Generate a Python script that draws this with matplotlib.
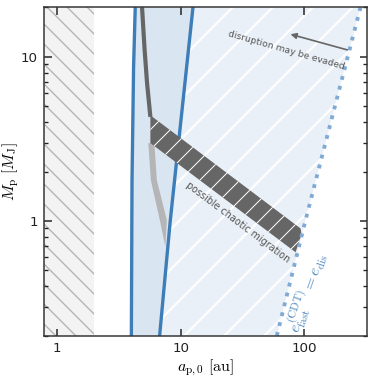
import matplotlib
matplotlib.use('Agg')
import matplotlib.pyplot as plt
from matplotlib.ticker import NullLocator

plt.rcParams['mathtext.fontset'] = 'cm'

# zone limits
a_inner_edge = 2.0

# inner disruption boundary (solid blue, left)
left_a = [4.0, 4.05, 4.17, 4.3]
left_M = [0.2, 1.77, 8.7, 20]

# outer disruption boundary (solid blue, right)
right_a = [6.77, 8.25, 12.6]
right_M = [0.2, 1.0, 20]

# e_fast^(CDT) = e_dis (dotted)
dot_a = [60, 102, 285]
dot_M = [0.2, 1.0, 20]

# chaotic migration band
band_a = [5.7, 93.4, 95.1, 85.1, 5.7]
band_M = [4.4, 0.90, 0.83, 0.645, 2.98]

# dark edge above the band
dark_a = [4.88, 5.12, 5.36, 5.7]
dark_M = [20, 11.0, 6.9, 4.3]

# light edge below the band (wedge)
light_a = [5.49, 5.75, 6.80, 7.53, 7.75, 6.43, 6.14]
light_M = [2.98, 1.77, 1.01, 0.70, 1.01, 1.77, 2.98]

DPI = 120
fig = plt.figure(figsize=(382 / DPI, 382 / DPI), dpi=DPI)
ax = fig.add_axes([0.114, 0.121, 0.846, 0.860])
ax.set_xscale('log')
ax.set_yscale('log')
ax.set_xlim(0.78, 320)
ax.set_ylim(0.2, 20)


def hatch_lw(patch, lw):
    if hasattr(patch, 'set_hatch_linewidth'):
        patch.set_hatch_linewidth(lw)


# grey hatched zone on the left
plt.rcParams['hatch.linewidth'] = 0.8
p = ax.axvspan(0.1, a_inner_edge, facecolor='#f3f3f3', edgecolor='#b3b3b3',
               hatch='\\\\', linewidth=0, zorder=1)
hatch_lw(p, 0.8)

# light blue zone between blue curves
ax.fill(left_a + right_a[::-1], left_M + right_M[::-1],
        facecolor='#d9e5f0', edgecolor='none', zorder=1)

# hatched zone between right curve and dotted line
plt.rcParams['hatch.linewidth'] = 1.3
p, = ax.fill(right_a + dot_a[::-1], right_M + dot_M[::-1],
             facecolor='#eaf0f7', edgecolor='white', hatch='/', linewidth=0, zorder=1)
hatch_lw(p, 1.3)

ax.plot(left_a, left_M, color='#3d7db8', lw=2.0, zorder=3)
ax.plot(right_a, right_M, color='#3d7db8', lw=2.0, zorder=3)

ax.fill(light_a, light_M, facecolor='#b5b5b5', edgecolor='none', zorder=3)
ax.plot(dark_a, dark_M, color='#666666', lw=2.5, zorder=4, solid_capstyle='butt')
plt.rcParams['hatch.linewidth'] = 0.6
p, = ax.fill(band_a, band_M, facecolor='#666666', edgecolor='white', hatch='//',
             linewidth=0, zorder=4)
hatch_lw(p, 0.6)

ax.plot(dot_a, dot_M, color='#80aad4', lw=2.3, ls=':', zorder=5)

ax.text(71.9, 11.0, 'disruption may be evaded', rotation=-16, color='#555555',
        fontsize=5.5, ha='center', va='center', rotation_mode='anchor', zorder=6)
ax.annotate('', xy=(77.4, 13.7), xytext=(223, 11.0),
            arrowprops=dict(arrowstyle='-|>', color='#666666', lw=1.0,
                            mutation_scale=7, shrinkA=0, shrinkB=0), zorder=6)
ax.text(28.8, 0.98, 'possible chaotic migration', rotation=-37, color='#555555',
        fontsize=5.8, ha='center', va='center', rotation_mode='anchor', zorder=6)
ax.text(105, 0.365, r'$e_{\rm fast}^{\rm (CDT)} = e_{\rm dis}$', rotation=71,
        color='#4a86bd', fontsize=9.6, ha='center', va='center',
        rotation_mode='anchor', zorder=6)

ax.set_xticks([1, 10, 100])
ax.set_xticklabels(['1', '10', '100'])
ax.set_yticks([1, 10])
ax.set_yticklabels(['1', '10'])
ax.xaxis.set_minor_locator(NullLocator())
ax.tick_params(which='both', direction='in', top=True, right=True,
               labelsize=8.1, colors='#222222')
ax.tick_params(which='major', length=4.5, width=0.9)
ax.tick_params(which='minor', length=2.5, width=0.8)
for s in ax.spines.values():
    s.set_color('#333333')
    s.set_linewidth(0.9)
    s.set_zorder(7)

ax.set_xlabel(r'$a_{\rm p,0}\ [{\rm au}]$', fontsize=9.6, labelpad=2)
ax.set_ylabel(r'$M_{\rm p}\ [M_{\rm J}]$', fontsize=9.6, labelpad=0)

fig.savefig('out.png', dpi=DPI)
